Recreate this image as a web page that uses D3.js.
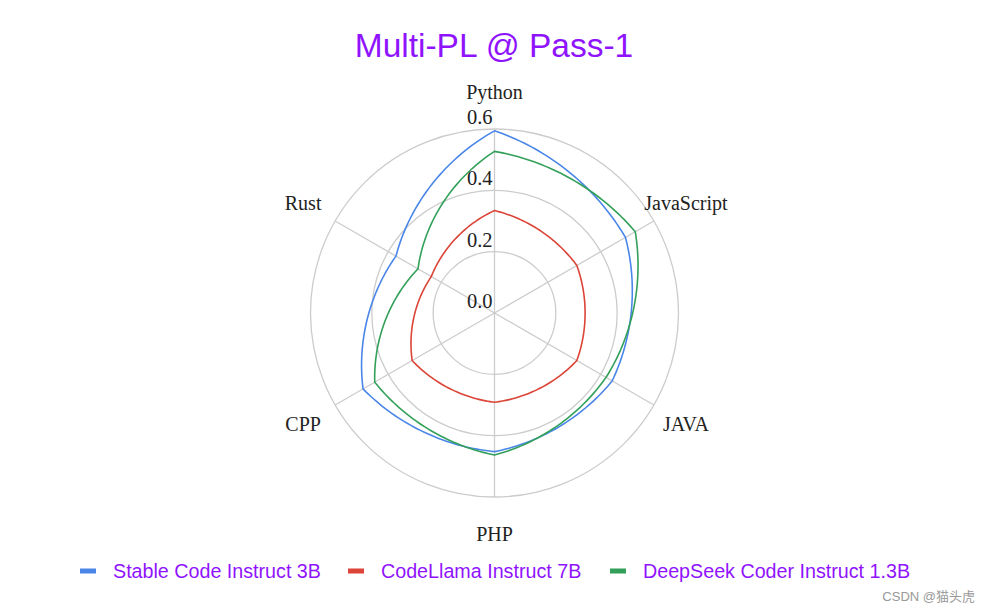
<!DOCTYPE html>
<html>
<head>
<meta charset="utf-8">
<script src="https://cdn.jsdelivr.net/npm/d3@7"></script>
<style>
  html, body { margin: 0; padding: 0; background: #fff; }
  svg { display: block; }
</style>
</head>
<body>
<svg id="chart" width="990" height="612"></svg>
<script>
// ---- data ----
const categories = ["Python", "JavaScript", "JAVA", "PHP", "CPP", "Rust"];
const seriesNames = ["Stable Code Instruct 3B", "CodeLlama Instruct 7B", "DeepSeek Coder Instruct 1.3B"];
const stableCode = [0.594, 0.493, 0.443, 0.452, 0.495, 0.371];
const codeLlama = [0.334, 0.310, 0.310, 0.291, 0.310, 0.238];
const deepSeek = [0.527, 0.530, 0.420, 0.463, 0.451, 0.288];
const radialTicks = [0.0, 0.2, 0.4, 0.6];
const seriesColors = ["#4a86e8", "#db4437", "#33a05a"];

const series = [stableCode, codeLlama, deepSeek].map((v, i) => ({ name: seriesNames[i], values: v, color: seriesColors[i] }));

// ---- layout ----
const svg = d3.select("#chart");
const cx = 494.5, cy = 313, R = 184;
const purple = "#9013fe";
const g = svg.append("g").attr("transform", `translate(${cx},${cy})`);

const rScale = d3.scaleLinear().domain([0, 0.6]).range([0, R]);
const aScale = d3.scaleLinear().domain([0, categories.length]).range([0, 2 * Math.PI]);

// grid circles
g.selectAll("circle.grid").data(radialTicks.filter(t => t > 0)).join("circle")
  .attr("class", "grid").attr("r", d => rScale(d))
  .attr("fill", "none").attr("stroke", "#cccccc").attr("stroke-width", 1.3);

// spokes
g.selectAll("line.spoke").data(categories).join("line")
  .attr("class", "spoke")
  .attr("x1", 0).attr("y1", 0)
  .attr("x2", (d, i) => R * Math.sin(aScale(i)))
  .attr("y2", (d, i) => -R * Math.cos(aScale(i)))
  .attr("stroke", "#cccccc").attr("stroke-width", 1.3);

// radial tick labels
g.selectAll("text.rtick").data(radialTicks).join("text")
  .attr("class", "rtick")
  .attr("x", -2).attr("y", d => -rScale(d) - 5)
  .attr("text-anchor", "end")
  .attr("font-family", "'Liberation Serif', 'Times New Roman', serif")
  .attr("font-size", 20.5).attr("fill", "#222")
  .text(d => d.toFixed(1));

// category labels
g.selectAll("text.cat").data(categories).join("text")
  .attr("class", "cat")
  .attr("x", (d, i) => 221 * Math.sin(aScale(i)))
  .attr("y", (d, i) => -221 * Math.cos(aScale(i)))
  .attr("text-anchor", "middle").attr("dominant-baseline", "central")
  .attr("font-family", "'Liberation Serif', 'Times New Roman', serif")
  .attr("font-size", 20).attr("fill", "#222")
  .text(d => d);

// series path: segments curved between polar interpolation and straight chord
const bend = 0.65;
function seriesPath(values) {
  const n = values.length, steps = 40, pts = [];
  for (let i = 0; i < n; i++) {
    const a0 = aScale(i), a1 = aScale(i + 1);
    const r0 = rScale(values[i]), r1 = rScale(values[(i + 1) % n]);
    const p0 = [r0 * Math.sin(a0), -r0 * Math.cos(a0)];
    const p1 = [r1 * Math.sin(a1), -r1 * Math.cos(a1)];
    for (let s = 0; s < steps; s++) {
      const t = s / steps;
      const a = a0 + (a1 - a0) * t, r = r0 + (r1 - r0) * t;
      const pp = [r * Math.sin(a), -r * Math.cos(a)];
      const pc = [p0[0] + (p1[0] - p0[0]) * t, p0[1] + (p1[1] - p0[1]) * t];
      pts.push([bend * pp[0] + (1 - bend) * pc[0], bend * pp[1] + (1 - bend) * pc[1]]);
    }
  }
  return d3.line().curve(d3.curveLinearClosed)(pts);
}

g.selectAll("path.series").data(series).join("path")
  .attr("class", "series")
  .attr("d", d => seriesPath(d.values))
  .attr("fill", "none").attr("stroke", d => d.color).attr("stroke-width", 1.6)
  .attr("stroke-linejoin", "round");

// title
svg.append("text")
  .attr("x", 494).attr("y", 57)
  .attr("text-anchor", "middle")
  .attr("font-family", "'Liberation Sans', Arial, sans-serif")
  .attr("font-size", 33.5).attr("fill", purple)
  .text("Multi-PL @ Pass-1");

// legend
const legendX = [80, 348, 610];
const leg = svg.append("g");
series.forEach((s, i) => {
  leg.append("rect").attr("x", legendX[i]).attr("y", 568.5).attr("width", 16).attr("height", 5).attr("fill", s.color);
  leg.append("text").attr("x", legendX[i] + 33).attr("y", 571)
    .attr("dominant-baseline", "central")
    .attr("font-family", "'Liberation Sans', Arial, sans-serif")
    .attr("font-size", 19.7).attr("fill", purple)
    .text(s.name);
});

// watermark
svg.append("text").attr("x", 975).attr("y", 601).attr("text-anchor", "end")
  .attr("font-family", "'Liberation Sans', 'Noto Sans CJK SC', sans-serif")
  .attr("font-size", 13).attr("fill", "#999")
  .text("CSDN @猫头虎");
</script>
</body>
</html>
